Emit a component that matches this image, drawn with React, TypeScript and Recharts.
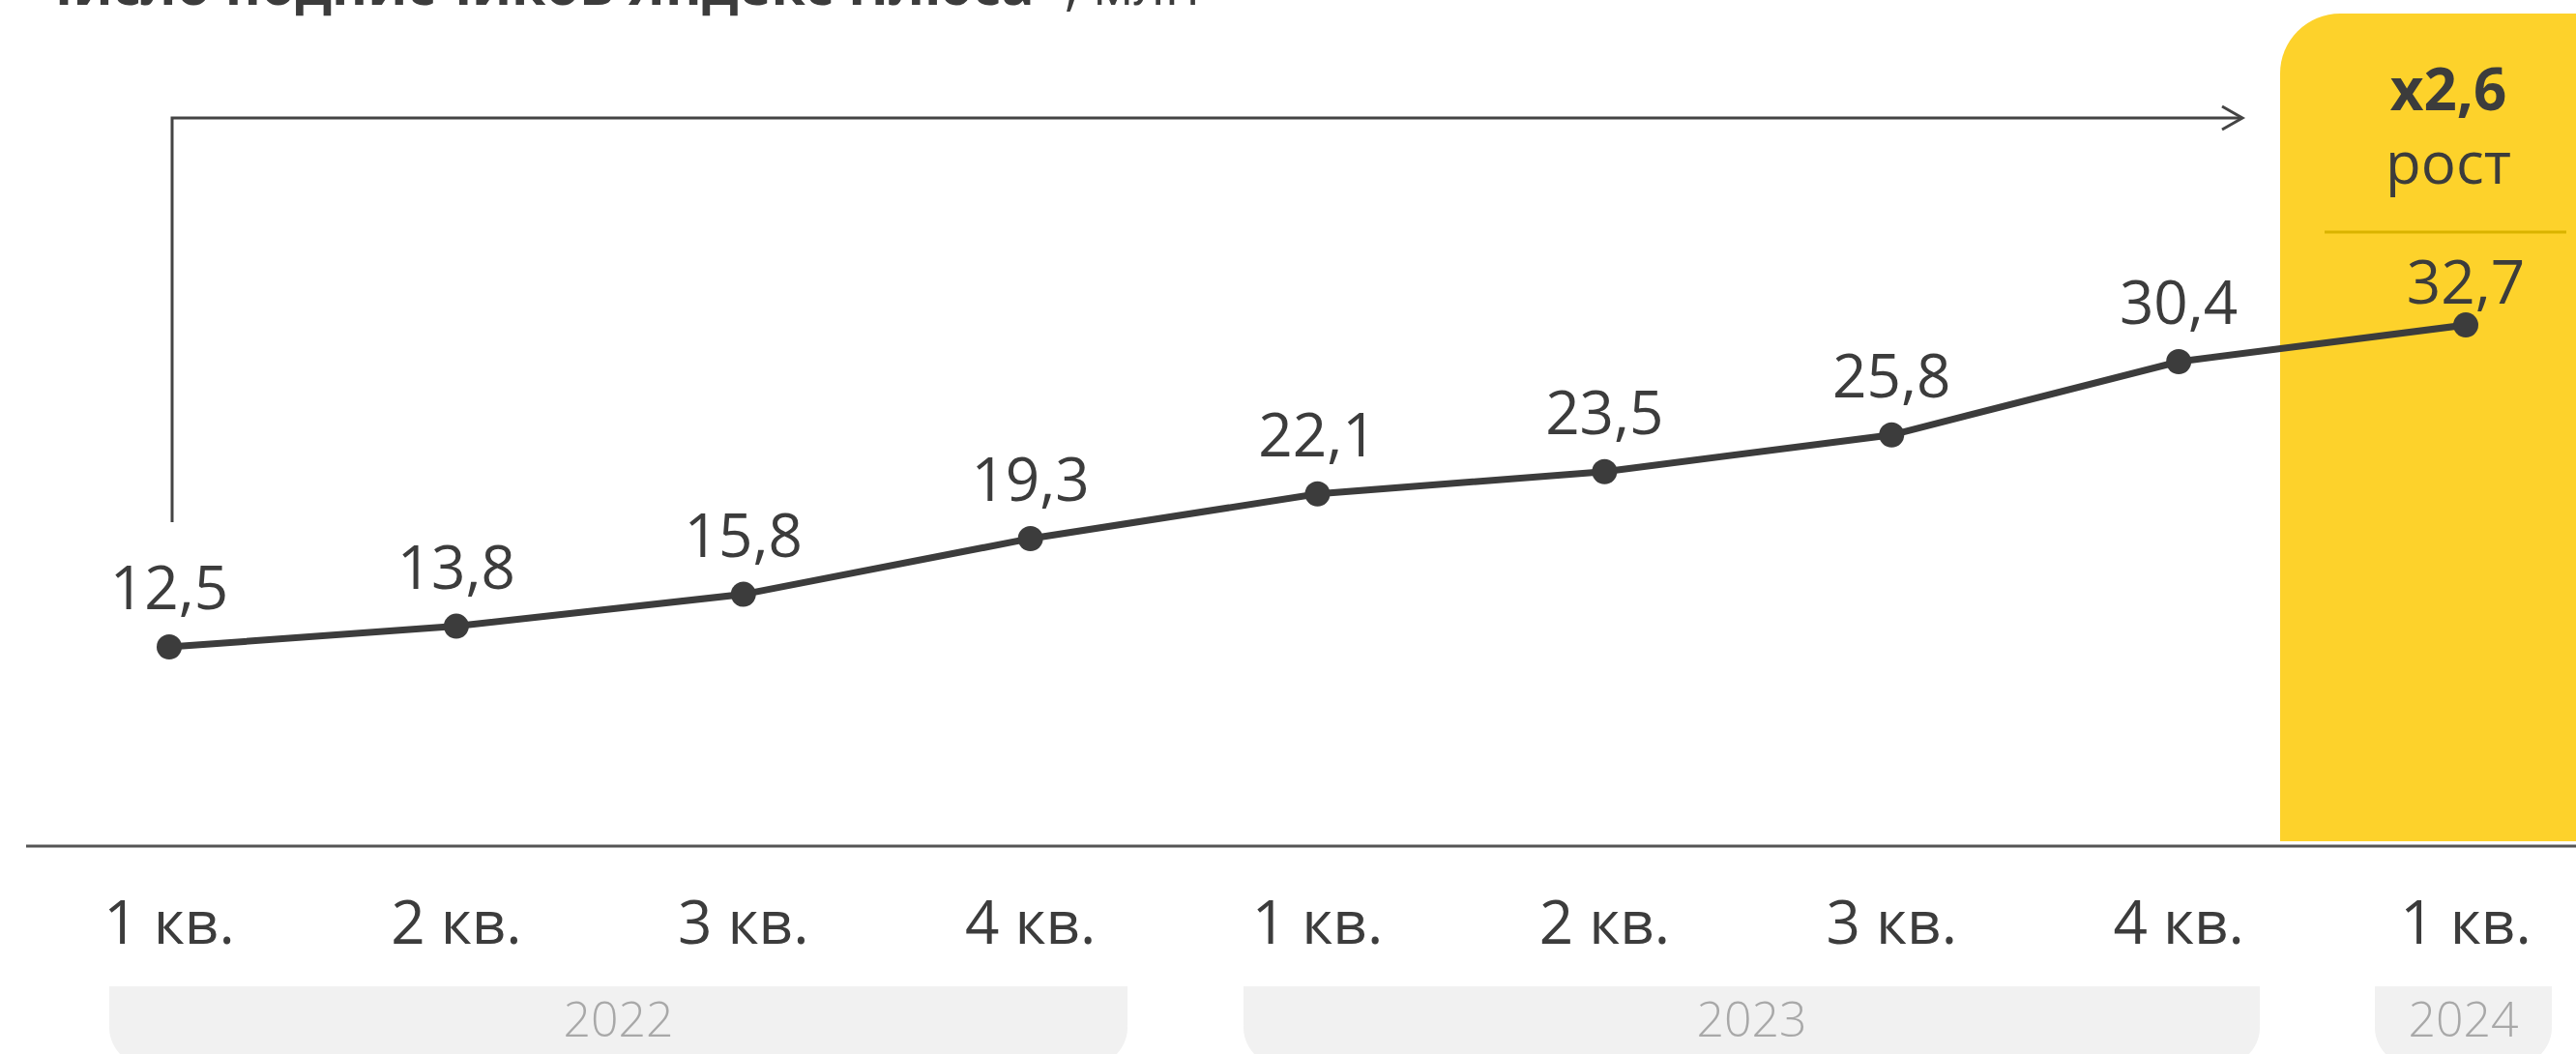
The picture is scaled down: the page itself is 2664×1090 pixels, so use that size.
import { LineChart, Line, XAxis, YAxis, LabelList } from 'recharts'

const QUARTERS = ['1 кв.', '2 кв.', '3 кв.', '4 кв.', '1 кв.', '2 кв.', '3 кв.', '4 кв.', '1 кв.']
const SUBSCRIBERS = [12.5, 13.8, 15.8, 19.3, 22.1, 23.5, 25.8, 30.4, 32.7]
const YEARS = ['2022', '2023', '2024']
const GROWTH = 'x2,6'

const data = QUARTERS.map((q, i) => ({ key: `${q}-${i}`, quarter: q, value: SUBSCRIBERS[i] }))

const W = 2664
const H = 1090
const TEXT = '#3c3c3c'
const FONT = '"Open Sans", sans-serif'

// decoration layout (px)
const YEAR_BANDS = [
  { x0: 113, x1: 1166 },
  { x0: 1286, x1: 2337 },
  { x0: 2456, x1: 2639 },
]

const fmt = (v: number) => v.toFixed(1).replace('.', ',')

function QuarterTick({ x, y, payload }: any) {
  return (
    <text x={x} y={y + 101} textAnchor="middle" fontSize={62} fontFamily={FONT} fill={TEXT}>
      {payload.value}
    </text>
  )
}

function ValueLabel({ x, y, value, index }: any) {
  const last = index === SUBSCRIBERS.length - 1
  return (
    <text x={x} y={y - (last ? 22 : 39)} textAnchor="middle" fontSize={62} fontFamily={FONT} fill={TEXT}>
      {fmt(value)}
    </text>
  )
}

export default function App() {
  return (
    <div style={{ position: 'absolute', left: 0, top: 0, width: W, height: H, overflow: 'hidden', background: '#fff' }}>
      {/* background: highlight box, year bands, title, arrow */}
      <svg width={W} height={H} style={{ position: 'absolute', left: 0, top: 0 }}>
        <rect x={2358} y={14} width={400} height={856} rx={62} fill="#FDD22B" />
        <rect x={2358} y={200} width={400} height={670} fill="#FDD22B" />
        <line x1={2404} x2={2654} y1={240} y2={240} stroke="#D9B300" strokeWidth={3} />
        <text x={2532} y={114} textAnchor="middle" fontSize={60} fontWeight={700} fontFamily={FONT} fill={TEXT}>
          {GROWTH}
        </text>
        <text x={2532} y={190} textAnchor="middle" fontSize={60} fontFamily={FONT} fill={TEXT}>
          рост
        </text>
        {YEARS.map((yr, i) => {
          const b = YEAR_BANDS[i]
          return (
            <g key={yr}>
              <rect x={b.x0} y={1020} width={b.x1 - b.x0} height={86} rx={50} fill="#F1F1F1" />
              <rect x={b.x0} y={1020} width={b.x1 - b.x0} height={40} fill="#F1F1F1" />
              <text x={(b.x0 + b.x1) / 2} y={1072} textAnchor="middle" fontSize={50} fontWeight={300} fontFamily={FONT} fill="#A8A8A8">
                {yr}
              </text>
            </g>
          )
        })}
        {/* title, cut by the top edge */}
        <text x={34} y={5} fontSize={57} fontFamily={FONT} fill={TEXT}>
          <tspan fontWeight={700}>Число подписчиков Яндекс Плюса*</tspan>
          <tspan>, млн</tspan>
        </text>
        {/* growth arrow */}
        <polyline points="178,540 178,122 2318,122" fill="none" stroke="#444" strokeWidth={3} />
        <polyline points="2298,110 2319,122 2298,134" fill="none" stroke="#444" strokeWidth={3} />
      </svg>

      <div style={{ position: 'absolute', left: 0, top: 0 }}>
        <LineChart width={W} height={H} data={data} margin={{ top: 51, right: 0, bottom: 185, left: 27 }}>
          <XAxis
            dataKey="key"
            height={30}
            tick={(p: any) => <QuarterTick {...p} payload={{ value: QUARTERS[p.index] }} />}
            padding={{ left: 148, right: 114 }}
            axisLine={{ stroke: '#555', strokeWidth: 3 }}
            tickLine={false}
            tickSize={0}
            tickMargin={0}
            interval={0}
          />
          <YAxis hide domain={[0, 50]} />
          <Line
            type="linear"
            dataKey="value"
            stroke="#3c3c3c"
            strokeWidth={7}
            dot={{ r: 13, fill: '#3c3c3c', stroke: 'none' }}
            isAnimationActive={false}
          >
            <LabelList dataKey="value" content={(p: any) => <ValueLabel {...p} />} />
          </Line>
        </LineChart>
      </div>
    </div>
  )
}
